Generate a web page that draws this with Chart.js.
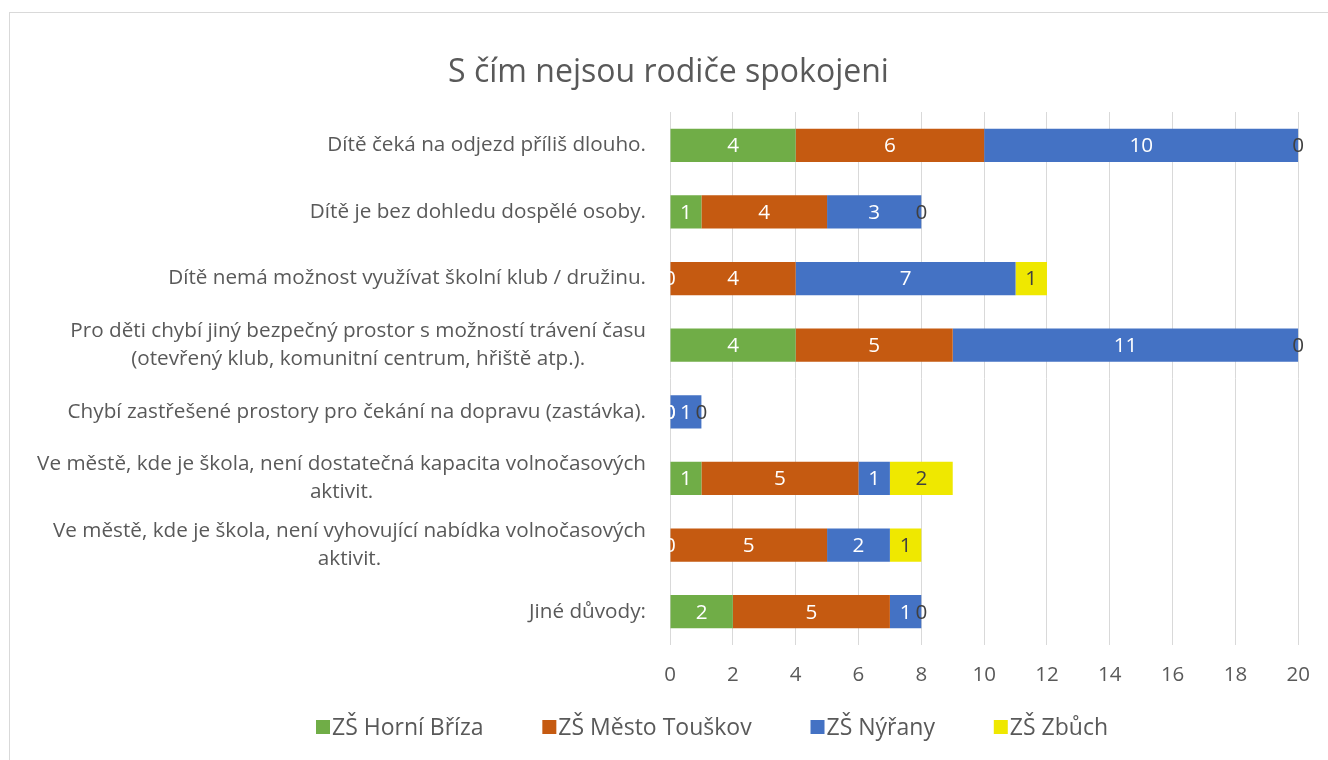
<!DOCTYPE html>
<html>
<head>
<meta charset="utf-8">
<script src="https://cdn.jsdelivr.net/npm/chart.js@4"></script>
<style>
html,body{margin:0;padding:0;background:#fff;}
#wrap{width:1328px;height:760px;position:relative;}
</style>
</head>
<body>
<div id="wrap"><canvas id="c" width="1328" height="760"></canvas></div>
<script>
const categories = [
  ["Dítě čeká na odjezd příliš dlouho."],
  ["Dítě je bez dohledu dospělé osoby."],
  ["Dítě nemá možnost využívat školní klub / družinu."],
  ["Pro děti chybí jiný bezpečný prostor s možností trávení času", "(otevřený klub, komunitní centrum, hřiště atp.)."],
  ["Chybí zastřešené prostory pro čekání na dopravu (zastávka)."],
  ["Ve městě, kde je škola, není dostatečná kapacita volnočasových", "aktivit."],
  ["Ve městě, kde je škola, není vyhovující nabídka volnočasových", "aktivit."],
  ["Jiné důvody:"]
];
const seriesNames = ["ZŠ Horní Bříza", "ZŠ Město Touškov", "ZŠ Nýřany", "ZŠ Zbůch"];
const horniBriza = [4, 1, 0, 4, 0, 1, 0, 2];
const mestoTouskov = [6, 4, 4, 5, 0, 5, 5, 5];
const nyrany = [10, 3, 7, 11, 1, 1, 2, 1];
const zbuch = [0, 0, 1, 0, 0, 2, 1, 0];
const xTicks = [0, 2, 4, 6, 8, 10, 12, 14, 16, 18, 20];

const FONT = "'Open Sans', Lato, sans-serif";
const GREY = "#595959";
const colors = ["#70ad47", "#c55a11", "#4472c4", "#efe800"];
const labelColors = ["#ffffff", "#ffffff", "#ffffff", "#404040"];
const LBL = 20.7;

const borderPlugin = {
  id: 'frame',
  beforeDraw(chart) {
    const ctx = chart.ctx;
    ctx.save();
    ctx.fillStyle = '#fff';
    ctx.fillRect(0, 0, chart.width, chart.height);
    ctx.strokeStyle = '#d9d9d9';
    ctx.lineWidth = 1;
    ctx.strokeRect(9.5, 12.5, 1340, 800);
    ctx.restore();
  }
};

const yLabelPlugin = {
  id: 'yLabels',
  afterDraw(chart) {
    const ctx = chart.ctx;
    const ys = chart.scales.y;
    const right = chart.chartArea.left - 24;
    ctx.save();
    ctx.font = LBL + "px " + FONT;
    ctx.fillStyle = GREY;
    ctx.textAlign = 'center';
    ctx.textBaseline = 'middle';
    const lh = 28;
    categories.forEach((lines, i) => {
      const yc = ys.getPixelForValue(i);
      const maxW = Math.max(...lines.map(l => ctx.measureText(l).width));
      const cx = right - maxW / 2;
      const y0 = yc - (lines.length - 1) * lh / 2;
      lines.forEach((l, k) => ctx.fillText(l, cx, y0 + k * lh));
    });
    ctx.restore();
  }
};

const valueLabelPlugin = {
  id: 'valueLabels',
  afterDatasetsDraw(chart) {
    const ctx = chart.ctx;
    ctx.save();
    ctx.font = LBL + "px " + FONT;
    ctx.textAlign = 'center';
    ctx.textBaseline = 'middle';
    chart.data.datasets.forEach((ds, di) => {
      const meta = chart.getDatasetMeta(di);
      meta.data.forEach((el, i) => {
        const cx = (el.x + el.base) / 2;
        ctx.fillStyle = labelColors[di];
        ctx.fillText(String(ds.data[i]), cx, el.y + 1);
      });
    });
    ctx.restore();
  }
};

const legendPlugin = {
  id: 'customLegend',
  afterDraw(chart) {
    const ctx = chart.ctx;
    ctx.save();
    ctx.font = "23px " + FONT;
    ctx.textBaseline = 'middle';
    ctx.textAlign = 'left';
    const box = 14, gapBT = 2;
    const widths = chart.data.datasets.map(ds => box + gapBT + ctx.measureText(ds.label).width);
    const total = 792;
    const gap = (total - widths.reduce((a, b) => a + b, 0)) / (widths.length - 1);
    let x = 712 - total / 2;
    const yc = 727;
    chart.data.datasets.forEach((ds, i) => {
      ctx.fillStyle = ds.backgroundColor;
      ctx.fillRect(x, yc - box / 2, box, box);
      ctx.fillStyle = GREY;
      ctx.fillText(ds.label, x + box + gapBT, yc + 1);
      x += widths[i] + gap;
    });
    ctx.restore();
  }
};

new Chart(document.getElementById('c'), {
  type: 'bar',
  data: {
    labels: categories.map(c => c.join(' ')),
    datasets: [horniBriza, mestoTouskov, nyrany, zbuch].map((d, i) => ({
      label: seriesNames[i],
      data: d,
      backgroundColor: colors[i],
      borderWidth: 0,
      categoryPercentage: 0.5,
      barPercentage: 1.0
    }))
  },
  options: {
    indexAxis: 'y',
    responsive: false,
    animation: false,
    devicePixelRatio: 1,
    layout: { padding: { top: 37, right: 27, bottom: 0, left: 36 } },
    scales: {
      x: {
        stacked: true,
        min: 0, max: 20,
        afterBuildTicks(scale) { scale.ticks = xTicks.map(v => ({ value: v })); },
        afterFit(scale) { scale.height = 115; },
        grid: { color: '#d9d9d9', lineWidth: 1, drawTicks: false },
        border: { display: false },
        ticks: { color: GREY, font: { family: FONT, size: 20.5 }, padding: 18 }
      },
      y: {
        stacked: true,
        grid: { display: false },
        border: { display: false },
        ticks: { display: false },
        afterFit(scale) { scale.width = 634; }
      }
    },
    plugins: {
      title: {
        display: true,
        text: 'S čím nejsou rodiče spokojeni',
        color: GREY,
        font: { family: FONT, size: 32, weight: 'normal' },
        padding: { top: 17, bottom: 19.6 }
      },
      legend: { display: false },
      tooltip: { enabled: false }
    }
  },
  plugins: [borderPlugin, yLabelPlugin, valueLabelPlugin, legendPlugin]
});
</script>
</body>
</html>
